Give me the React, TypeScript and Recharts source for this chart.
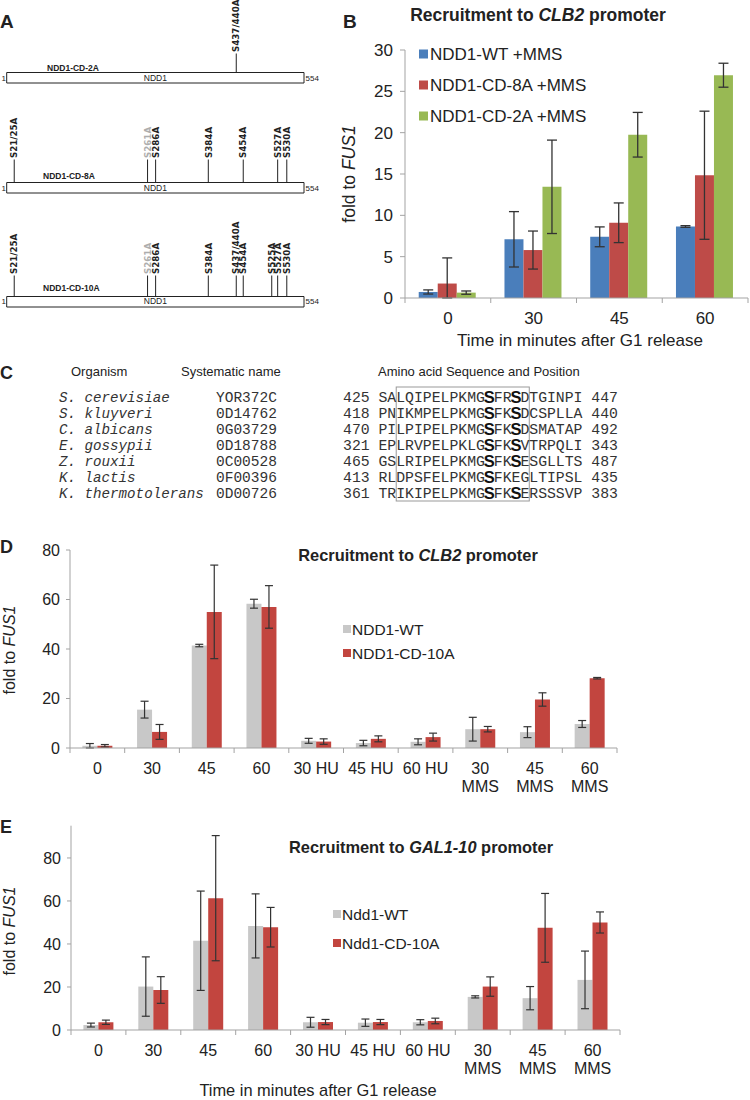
import React from "react";
import {
  BarChart,
  Bar,
  XAxis,
  YAxis,
  ErrorBar,
  ScatterChart,
  Scatter,
  ReferenceArea,
} from "recharts";

const SANS = "'Liberation Sans', Arial, Helvetica, sans-serif";
const WIDE = "'DejaVu Sans', Verdana, sans-serif";
const MONO = "'Liberation Mono', 'Courier New', monospace";
const AXIS = "#a3a3a3";
const INK = "#222";

// ---------- A: NDD1 constructs, mutated sites (pos = place on the drawn bar, 1..554)
const cd2aSites = [{ label: "S437/440A", pos: 428 }];
const cd8aSites = [
  { label: "S21/25A", pos: 15 },
  { label: "S261A", pos: 263, grey: true },
  { label: "S286A", pos: 278 },
  { label: "S384A", pos: 376 },
  { label: "S454A", pos: 441 },
  { label: "S527A", pos: 505 },
  { label: "S530A", pos: 522 },
];
const cd10aSites = [
  { label: "S21/25A", pos: 15 },
  { label: "S261A", pos: 263, grey: true },
  { label: "S286A", pos: 278 },
  { label: "S384A", pos: 376 },
  { label: "S437/440A", pos: 428 },
  { label: "S454A", pos: 441 },
  { label: "S525A", pos: 494 },
  { label: "S527A", pos: 505 },
  { label: "S530A", pos: 522 },
];

// ---------- B: recruitment to CLB2, +MMS
const bCats = ["0", "30", "45", "60"];
const bWT = [0.73, 7.1, 7.4, 8.65];
const bWTErr = [0.25, 3.35, 1.2, 0.1];
const b8A = [1.75, 5.8, 9.1, 14.85];
const b8AErr: any[] = [[1.75, 3.1], 2.3, 2.4, 7.75];
const b2A = [0.65, 13.45, 19.75, 26.95];
const b2AErr = [0.2, 5.65, 2.7, 1.45];
const bSeries = [
  { key: "wt", name: "NDD1-WT +MMS", color: "#4a7ebb" },
  { key: "a8", name: "NDD1-CD-8A +MMS", color: "#be4b48" },
  { key: "a2", name: "NDD1-CD-2A +MMS", color: "#98b954" },
];

// ---------- C: alignment
const organisms = ["S. cerevisiae", "S. kluyveri", "C. albicans", "E. gossypii", "Z. rouxii", "K. lactis", "K. thermotolerans"];
const sysNames = ["YOR372C", "0D14762", "0G03729", "0D18788", "0C00528", "0F00396", "0D00726"];
const seqFrom = [425, 418, 470, 321, 465, 413, 361];
const seqs = [
  "SALQIPELPKMGSFRSDTGINPI",
  "PNIKMPELPKMGSFKSDCSPLLA",
  "PILPIPELPKMGSFKSDSMATAP",
  "EPLRVPELPKLGSFKSVTRPQLI",
  "GSLRIPELPKMGSFKSESGLLTS",
  "RLDPSFELPKMGSFKEGLTIPSL",
  "TRIKIPELPKMGSFKSERSSSVP",
];
const seqTo = [447, 440, 492, 343, 487, 435, 383];

// ---------- D / E
const deCats = ["0", "30", "45", "60", "30 HU", "45 HU", "60 HU", "30\nMMS", "45\nMMS", "60\nMMS"];

const dWT = [0.9, 15.5, 41.4, 58.3, 2.9, 2.0, 2.5, 7.6, 6.4, 9.7];
const dWTErr = [0.9, 3.4, 0.5, 1.8, 1.0, 1.1, 1.2, 4.8, 2.2, 1.4];
const d10A = [0.9, 6.5, 55.0, 57.0, 2.6, 3.7, 4.4, 7.6, 19.6, 28.2];
const d10AErr = [0.5, 3.0, 18.9, 8.6, 1.1, 1.2, 1.6, 1.1, 2.7, 0.3];

const eWT = [2.3, 20.2, 41.5, 48.4, 3.6, 3.4, 3.6, 15.4, 14.8, 23.3];
const eWTErr = [0.9, 13.8, 23.1, 14.9, 2.3, 1.7, 1.2, 0.5, 5.4, 13.4];
const e10A = [3.6, 18.6, 61.3, 47.8, 3.7, 3.7, 4.2, 20.2, 47.5, 50.0];
const e10AErr = [1.0, 6.2, 29.1, 9.2, 1.2, 1.2, 1.3, 4.5, 16.0, 4.9];

const dSeries = [
  { key: "wt", name: "NDD1-WT", color: "#c8c8c8" },
  { key: "mut", name: "NDD1-CD-10A", color: "#c2453f" },
];
const eSeries = [
  { key: "wt", name: "Ndd1-WT", color: "#c8c8c8" },
  { key: "mut", name: "Ndd1-CD-10A", color: "#c2453f" },
];

const bData = bCats.map((cat, i) => ({
  cat,
  wt: bWT[i], wtErr: bWTErr[i],
  a8: b8A[i], a8Err: b8AErr[i],
  a2: b2A[i], a2Err: b2AErr[i],
}));
const dData = deCats.map((cat, i) => ({ cat, wt: dWT[i], wtErr: dWTErr[i], mut: d10A[i], mutErr: d10AErr[i] }));
const eData = deCats.map((cat, i) => ({ cat, wt: eWT[i], wtErr: eWTErr[i], mut: e10A[i], mutErr: e10AErr[i] }));

// category tick: boundary marks like Excel + (multi-line) label
const catTick = (bw: number, n: number, fs: number, first: number, lh: number) => (p: any) => {
  const { x, y, payload, index } = p;
  const lines = String(payload.value).split("\n");
  return (
    <g>
      <line x1={x - bw / 2} x2={x - bw / 2} y1={y} y2={y + 5} stroke={AXIS} />
      {index === n - 1 && <line x1={x + bw / 2} x2={x + bw / 2} y1={y} y2={y + 5} stroke={AXIS} />}
      <text x={x} y={y + first} textAnchor="middle" fontSize={fs} fill={INK} fontFamily={SANS}>
        {lines.map((l, i) => (
          <tspan key={i} x={x} dy={i ? lh : 0}>{l}</tspan>
        ))}
      </text>
    </g>
  );
};

// legend key drawn in the overlay svg
function SeriesKey({ series, x, y, gap, sw, fs, tx }: any) {
  return (
    <g>
      {series.map((s: any, i: number) => (
        <g key={s.key}>
          <rect x={x} y={y + i * gap - sw / 2} width={sw} height={sw} fill={s.color} />
          <text x={tx} y={y + i * gap + fs * 0.36} fontSize={fs} fill={INK}>{s.name}</text>
        </g>
      ))}
    </g>
  );
}

function Site({ cx, cy, payload, stem }: any) {
  const tx = cx + 3.2;
  const ty = cy - stem - 1.5;
  return (
    <g>
      <line x1={cx} y1={cy} x2={cx} y2={cy - stem} stroke={INK} strokeWidth={1} />
      <text
        x={tx}
        y={ty}
        transform={`rotate(-90 ${tx} ${ty})`}
        fontSize={8.7}
        fontWeight="bold"
        fontFamily={WIDE}
        fill={payload.grey ? "#adadad" : INK}
      >
        {payload.label}
      </text>
    </g>
  );
}

function ProteinMap({ sites, boxBottom, stem }: any) {
  const H = 100;
  const data = sites.map((s: any) => ({ x: s.pos, y: 15.5, label: s.label, grey: !!s.grey }));
  return (
    <div style={{ position: "absolute", left: 0, top: boxBottom - 95, width: 330, height: H }}>
      <ScatterChart width={330} height={H} margin={{ top: 0, right: 26, bottom: 0, left: 6.7 }}>
        <XAxis type="number" dataKey="x" domain={[1, 554]} allowDataOverflow hide />
        <YAxis type="number" dataKey="y" domain={[0, H]} allowDataOverflow hide />
        <ReferenceArea x1={1} x2={554} y1={5} y2={15.5} fill="#fff" fillOpacity={1} stroke={INK} strokeWidth={1} />
        <Scatter data={data} isAnimationActive={false} shape={(p: any) => <Site {...p} stem={stem} />} />
      </ScatterChart>
    </div>
  );
}

function PanelB() {
  const width = 410;
  const yW = 65;
  const mRight = 2;
  const bw = (width - yW - mRight) / bCats.length;
  return (
    <div style={{ position: "absolute", left: 340, top: 0, width, height: 350 }}>
      <BarChart width={width} height={350} data={bData} margin={{ top: 50, right: mRight, bottom: 0, left: 0 }} barCategoryGap="16%" barGap={0}>
        <XAxis dataKey="cat" height={52} interval={0} tickLine={false} tickSize={0} tickMargin={0} stroke={AXIS} tick={catTick(bw, bCats.length, 17, 26, 18)} />
        <YAxis width={yW} domain={[0, 30]} ticks={[0, 5, 10, 15, 20, 25, 30]} tickSize={5} tickMargin={7} stroke={AXIS} tick={{ fill: INK, fontSize: 17, fontFamily: SANS }} />
        {bSeries.map((s) => (
          <Bar key={s.key} dataKey={s.key} name={s.name} fill={s.color} isAnimationActive={false}>
            <ErrorBar dataKey={s.key + "Err"} width={5} stroke="#333" strokeWidth={1.3} />
          </Bar>
        ))}
      </BarChart>
    </div>
  );
}

function RecruitChart({ data, series, top, height, mTop, xH, mRight, yW, yMax }: any) {
  const width = 640;
  const bw = (width - yW - mRight) / data.length;
  return (
    <div style={{ position: "absolute", left: 0, top, width, height }}>
      <BarChart width={width} height={height} data={data} margin={{ top: mTop, right: mRight, bottom: 0, left: 0 }} barCategoryGap="22.6%" barGap={0}>
        <XAxis dataKey="cat" height={xH} interval={0} tickLine={false} tickSize={0} tickMargin={0} stroke={AXIS} tick={catTick(bw, data.length, 16, 25.5, 18.5)} />
        <YAxis width={yW} domain={[0, yMax]} ticks={[0, 20, 40, 60, 80]} tickSize={4} tickMargin={6} stroke={AXIS} tick={{ fill: INK, fontSize: 16, fontFamily: SANS }} />
        {series.map((s: any) => (
          <Bar key={s.key} dataKey={s.key} name={s.name} fill={s.color} isAnimationActive={false}>
            <ErrorBar dataKey={s.key + "Err"} width={4} stroke="#333" strokeWidth={1.2} />
          </Bar>
        ))}
      </BarChart>
    </div>
  );
}

const constructs = [
  { name: "NDD1-CD-2A", x: 47, y: 71, mid: 77.75 },
  { name: "NDD1-CD-8A", x: 43, y: 179, mid: 188 },
  { name: "NDD1-CD-10A", x: 43, y: 291, mid: 301.4 },
];

function Overlay() {
  const cw = 8.87;
  const c0 = 343;
  const rowY = (i: number) => 397 + 16 * i;
  const bold = { fontWeight: "bold" as const };
  return (
    <svg width={750} height={1100} style={{ position: "absolute", left: 0, top: 0, pointerEvents: "none" }} fontFamily={SANS} fill={INK}>
      {/* panel letters */}
      <text x={0} y={28} fontSize={19} {...bold}>A</text>
      <text x={343} y={28} fontSize={19} {...bold}>B</text>
      <text x={0} y={379} fontSize={18} {...bold}>C</text>
      <text x={0} y={553} fontSize={18} {...bold}>D</text>
      <text x={0} y={833} fontSize={18} {...bold}>E</text>

      {/* A labels */}
      {constructs.map((c) => (
        <g key={c.name}>
          <text x={c.x} y={c.y} fontSize={8.5} {...bold}>{c.name}</text>
          <text x={1.5} y={c.mid + 3} fontSize={8}>1</text>
          <text x={305.5} y={c.mid + 3} fontSize={8}>554</text>
          <text x={155.4} y={c.mid + 3} fontSize={8.5} textAnchor="middle">NDD1</text>
        </g>
      ))}

      {/* B */}
      <text x={538} y={21} fontSize={17.5} textAnchor="middle" {...bold}>
        Recruitment to <tspan fontStyle="italic">CLB2</tspan> promoter
      </text>
      <text x={355} y={174} fontSize={17.5} textAnchor="middle" transform="rotate(-90 355 174)">
        fold to <tspan fontStyle="italic">FUS1</tspan>
      </text>
      <text x={580} y={346} fontSize={17} textAnchor="middle">Time in minutes after G1 release</text>
      <SeriesKey series={bSeries} x={419} y={54} gap={31} sw={9} fs={17} tx={430} />

      {/* C */}
      <text x={71} y={376} fontSize={13}>Organism</text>
      <text x={181} y={376} fontSize={13}>Systematic name</text>
      <text x={378} y={376} fontSize={13}>Amino acid Sequence and Position</text>
      <rect x={c0 + 6 * cw} y={387} width={15 * cw} height={114} fill="none" stroke="#999" strokeWidth={1} />
      {organisms.map((o, i) => (
        <g key={o} fontFamily={MONO} fill="#333">
          <text x={59} y={rowY(i) + 5} fontSize={14.2} fontStyle="italic">{o}</text>
          <text x={216} y={rowY(i) + 5} fontSize={14.5}>{sysNames[i]}</text>
          <text x={c0} y={rowY(i) + 5} fontSize={14.8}>{seqFrom[i]}</text>
          {seqs[i].split("").map((ch, j) => {
            const big = ch === "S" && (j === 12 || j === 15);
            return (
              <text
                key={j}
                x={c0 + (4 + j + 0.5) * cw}
                y={rowY(i) + (big ? 6 : 5)}
                textAnchor="middle"
                fontSize={big ? 16.5 : 14.8}
                fontWeight={big ? "bold" : "normal"}
                fontFamily={big ? SANS : MONO}
                fill={big ? "#111" : "#333"}
              >
                {ch}
              </text>
            );
          })}
          <text x={c0 + 28 * cw} y={rowY(i) + 5} fontSize={14.8}>{seqTo[i]}</text>
        </g>
      ))}

      {/* D */}
      <text x={418} y={561} fontSize={16.4} textAnchor="middle" {...bold}>
        Recruitment to <tspan fontStyle="italic">CLB2</tspan> promoter
      </text>
      <text x={14.5} y={650} fontSize={16} textAnchor="middle" transform="rotate(-90 14.5 650)">
        fold to <tspan fontStyle="italic">FUS1</tspan>
      </text>
      <SeriesKey series={dSeries} x={343} y={629} gap={24} sw={8} fs={15.5} tx={352} />

      {/* E */}
      <text x={421} y={853} fontSize={16.4} textAnchor="middle" {...bold}>
        Recruitment to <tspan fontStyle="italic">GAL1-10</tspan> promoter
      </text>
      <text x={14.5} y={931} fontSize={16} textAnchor="middle" transform="rotate(-90 14.5 931)">
        fold to <tspan fontStyle="italic">FUS1</tspan>
      </text>
      <SeriesKey series={eSeries} x={333} y={914} gap={29} sw={8} fs={15.5} tx={342} />
      <text x={318} y={1096} fontSize={16.4} textAnchor="middle">Time in minutes after G1 release</text>
    </svg>
  );
}

export default function App() {
  return (
    <div style={{ position: "absolute", left: 0, top: 0, width: 750, height: 1100, background: "#fff", overflow: "hidden", fontFamily: SANS }}>
      <ProteinMap sites={cd2aSites} boxBottom={83} stem={19} />
      <ProteinMap sites={cd8aSites} boxBottom={193.3} stem={23} />
      <ProteinMap sites={cd10aSites} boxBottom={306.7} stem={21} />
      <PanelB />
      <RecruitChart data={dData} series={dSeries} top={530} height={270} mTop={20} xH={52} mRight={23} yW={70} yMax={80} />
      <RecruitChart data={eData} series={eSeries} top={810} height={290} mTop={15.7} xH={70} mRight={20} yW={71} yMax={95} />
      <Overlay />
    </div>
  );
}
